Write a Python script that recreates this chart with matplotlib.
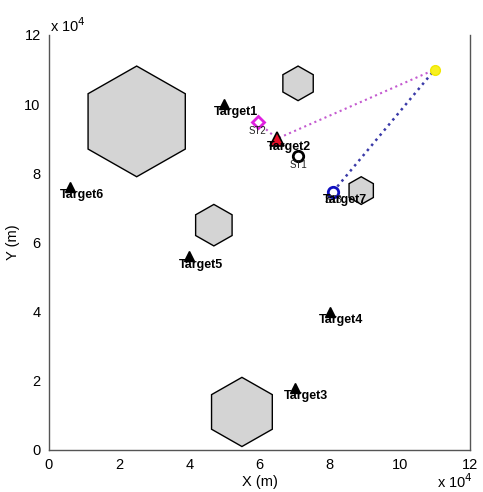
import matplotlib
matplotlib.use("Agg")
import matplotlib.pyplot as plt
from matplotlib.patches import RegularPolygon
from matplotlib.ticker import FuncFormatter, MultipleLocator

plt.rcParams["font.family"] = ["Liberation Sans", "DejaVu Sans"]

# obstacles (hexagons): centre x, centre y, circumradius, metres
obs_x = [25000, 71000, 89000, 47000, 55000]
obs_y = [95000, 106000, 75000, 65000, 11000]
obs_r = [16000, 5000, 4000, 6000, 10000]

# targets
tgt_names = ["Target1", "Target2", "Target3", "Target4", "Target5", "Target6", "Target7"]
tgt_x = [50000, 65000, 70000, 80000, 40000, 6000, 81000]
tgt_y = [100000, 90000, 18000, 40000, 56000, 76000, 74700]

# sensor terminals
st_names = ["ST1", "ST2", "ST3"]
st_x = [71000, 59500, 81000]
st_y = [85000, 94800, 74700]

# UAV position
uav_x, uav_y = 110000, 110000

fig = plt.figure(figsize=(4.83, 4.92), dpi=100)
ax = fig.add_axes([0.1014, 0.0854, 0.8716, 0.8436])

for cx, cy, r in zip(obs_x, obs_y, obs_r):
    ax.add_patch(RegularPolygon((cx, cy), numVertices=6, radius=r,
                                facecolor="#d4d4d4", edgecolor="black",
                                linewidth=1.0, zorder=1))

# links from UAV
ax.plot([st_x[1], tgt_x[1], uav_x], [st_y[1], tgt_y[1], uav_y], ":",
        color="#c45ad0", linewidth=1.5, zorder=2)
ax.plot([st_x[2], uav_x], [st_y[2], uav_y], ":",
        color="#3a3aa8", linewidth=1.8, zorder=2)

for i, (name, x, y) in enumerate(zip(tgt_names, tgt_x, tgt_y)):
    if name == "Target2":
        ax.plot(x, y, "^", markersize=10, markerfacecolor="#e8102a",
                markeredgecolor="black", markeredgewidth=1.2, zorder=4)
    else:
        ax.plot(x, y, "^", markersize=6.5, color="black", zorder=3)

# sensor terminals
ax.plot(st_x[0], st_y[0], "o", markersize=7.5, markerfacecolor="white",
        markeredgecolor="black", markeredgewidth=2, zorder=5)
ax.plot(st_x[1], st_y[1], "D", markersize=6.5, markerfacecolor="white",
        markeredgecolor="#e020e0", markeredgewidth=2, zorder=5)
ax.plot(st_x[2], st_y[2], "o", markersize=7.5, markerfacecolor="white",
        markeredgecolor="#1010c0", markeredgewidth=2, zorder=5)
for name, x, y in zip(st_names, st_x, st_y):
    ax.text(x, y - 2500, name, ha="center", va="center", fontsize=7,
            color="#222222", zorder=6)

for name, x, y in zip(tgt_names, tgt_x, tgt_y):
    ax.text(x - 3000, y - 2400, name, ha="left", va="center", fontsize=9,
            fontweight="bold", color="black", zorder=7)

ax.plot(uav_x, uav_y, "o", markersize=7, markerfacecolor="#f8f020",
        markeredgecolor="#f0e800", zorder=6)

ax.set_xlim(0, 120000)
ax.set_ylim(0, 120000)
ax.xaxis.set_major_locator(MultipleLocator(20000))
ax.yaxis.set_major_locator(MultipleLocator(20000))
fmt = FuncFormatter(lambda v, p: f"{v / 1e4:g}")
ax.xaxis.set_major_formatter(fmt)
ax.yaxis.set_major_formatter(fmt)
ax.tick_params(length=0, labelsize=10.5, pad=6)
ax.spines["top"].set_visible(False)
for s in ["left", "bottom", "right"]:
    ax.spines[s].set_color("#555555")
    ax.spines[s].set_linewidth(1.0)

ax.set_xlabel("X (m)", fontsize=10.5, labelpad=2)
ax.set_ylabel("Y (m)", fontsize=10.5, labelpad=3)

fig.text(0.104, 0.928, r"x 10$^4$", fontsize=10.5, ha="left", va="bottom")
fig.text(0.905, 0.003, r"x 10$^4$", fontsize=10.5, ha="left", va="bottom")

fig.savefig("out.png", dpi=100)
